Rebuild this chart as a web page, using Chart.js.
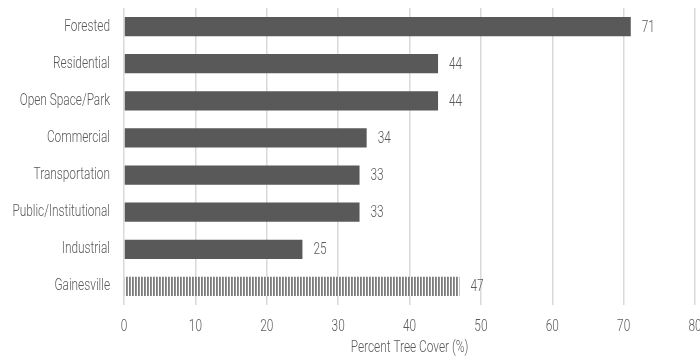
<!DOCTYPE html>
<html>
<head>
<meta charset="utf-8">
<script src="https://cdn.jsdelivr.net/npm/chart.js@4.4.1/dist/chart.umd.min.js"></script>
<style>
  html, body { margin: 0; padding: 0; background: #ffffff; overflow: hidden; }
  #wrap { position: relative; width: 700px; height: 358px; }
</style>
</head>
<body>
<div id="wrap"><canvas id="chart"></canvas></div>
<script>
// Percent tree cover by land use, with the city-wide figure last
const categories = ['Forested', 'Residential', 'Open Space/Park', 'Commercial',
                    'Transportation', 'Public/Institutional', 'Industrial', 'Gainesville'];
const treeCover = [71, 44, 44, 34, 33, 33, 25, 47];
const axisTitle = 'Percent Tree Cover (%)';
const axisMin = 0;
const axisMax = 80;
const axisStep = 10;

const FONT = 'Roboto, "Liberation Sans", sans-serif';
const FONT_SIZE = 16;
const FONT_WEIGHT = '300';
const CONDENSE = 0.74;   // horizontal squeeze for a narrow typeface look
const TEXT = '#595959';
const GRID = '#d9d9d9';
const BAR = '#595959';

// Vertical-stripe fill for the city-wide bar
function stripeFill() {
  const c = document.createElement('canvas');
  c.width = 3; c.height = 4;
  const g = c.getContext('2d');
  const cols = ['#7c7c7c', '#929292', '#ffffff'];
  cols.forEach((col, i) => { g.fillStyle = col; g.fillRect(i, 0, 1, 4); });
  return g.createPattern(c, 'repeat');
}
const stripes = stripeFill();
const fills = categories.map((c, i) => i === categories.length - 1 ? stripes : BAR);

// Draw all chart text horizontally condensed around its anchor point
const condensedText = {
  id: 'condensedText',
  beforeInit(chart) {
    const ctx = chart.ctx;
    const orig = ctx.fillText.bind(ctx);
    ctx.fillText = function (text, x, y, maxWidth) {
      this.save();
      this.translate(x, y);
      this.scale(CONDENSE, 1);
      if (maxWidth === undefined) orig(text, 0, 0);
      else orig(text, 0, 0, maxWidth / CONDENSE);
      this.restore();
    };
  }
};

// Value labels to the right of each bar
const valueLabels = {
  id: 'valueLabels',
  afterDatasetsDraw(chart) {
    const ctx = chart.ctx;
    const meta = chart.getDatasetMeta(0);
    ctx.save();
    ctx.font = FONT_WEIGHT + ' ' + FONT_SIZE + 'px ' + FONT;
    ctx.fillStyle = TEXT;
    ctx.textAlign = 'left';
    ctx.textBaseline = 'middle';
    meta.data.forEach((bar, i) => {
      ctx.fillText(String(treeCover[i]), bar.x + 11, bar.y + 1);
    });
    ctx.restore();
  }
};

const textFont = { family: FONT, size: FONT_SIZE, weight: FONT_WEIGHT };

new Chart(document.getElementById('chart'), {
  type: 'bar',
  data: {
    labels: categories,
    datasets: [{
      data: treeCover,
      backgroundColor: fills,
      borderWidth: 0,
      barPercentage: 0.52,
      categoryPercentage: 1.0
    }]
  },
  options: {
    indexAxis: 'y',
    responsive: true,
    maintainAspectRatio: false,
    animation: false,
    layout: { padding: { top: 8, right: 5, left: 0, bottom: 0 } },
    plugins: {
      legend: { display: false },
      tooltip: { enabled: false }
    },
    scales: {
      x: {
        min: axisMin,
        max: axisMax,
        ticks: {
          stepSize: axisStep,
          color: TEXT,
          padding: 12,
          font: textFont
        },
        grid: { color: GRID, lineWidth: 1.5, drawTicks: false },
        border: { display: false },
        title: {
          display: true,
          text: axisTitle,
          color: TEXT,
          font: textFont,
          padding: { top: 9, bottom: 0 }
        },
        afterFit(scale) {
          scale.paddingLeft = 0; scale.paddingRight = 0;
          scale.height = 53;
        }
      },
      y: {
        ticks: {
          color: TEXT,
          padding: 6,
          font: textFont
        },
        grid: { display: false },
        border: { display: false },
        afterFit(scale) {
          scale.paddingTop = 0; scale.paddingBottom = 0;
          scale.width = 124;
        }
      }
    }
  },
  plugins: [condensedText, valueLabels]
});
</script>
</body>
</html>
